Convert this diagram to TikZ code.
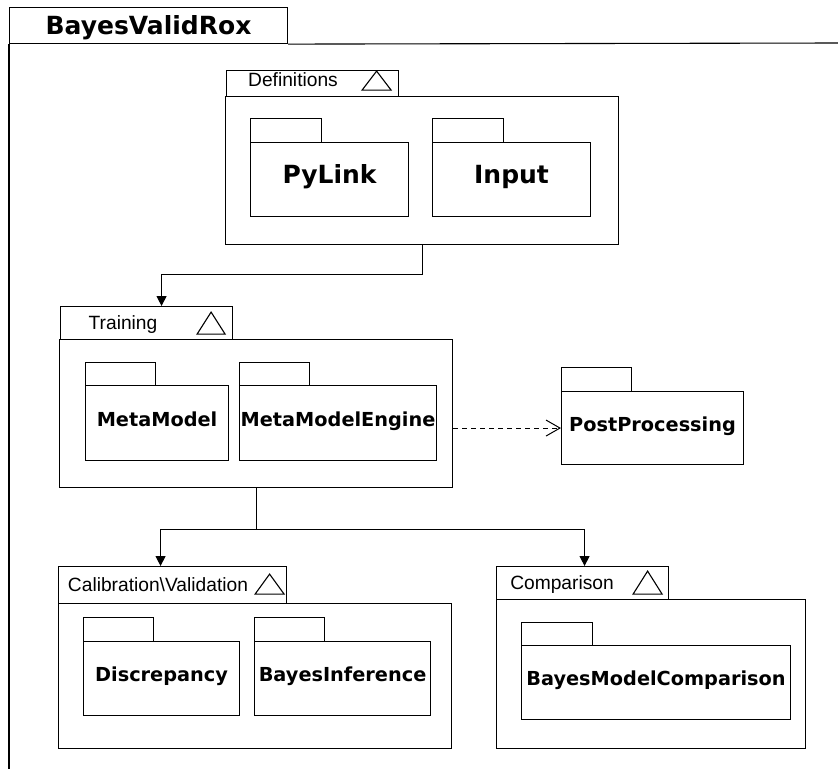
\documentclass[tikz,border=0pt]{standalone}
\usepackage{fontspec}
\setmainfont{Liberation Sans}
\newfontfamily\pkgfont{DejaVu Sans}
\usetikzlibrary{positioning,arrows.meta,calc}

\tikzset{
  outline/.style={draw,line width=1.1pt,inner sep=0pt},
  box/.style={outline,anchor=north west},
  pkgtab/.style={box,minimum width=71pt,minimum height=24pt},
  pkgname/.style={box,font=\pkgfont\bfseries\fontsize{19.3}{21}\selectfont,text height=14pt,text depth=8pt},
  bigname/.style={pkgname,font=\pkgfont\bfseries\fontsize{25}{27}\selectfont,text height=18pt,text depth=10pt},
  tablabel/.style={font=\fontsize{19.2}{21}\selectfont,inner sep=0pt,anchor=base},
  flow/.style={line width=1.1pt,-{Triangle[length=10pt,width=10pt]}},
  depend/.style={line width=1pt,dash pattern=on 5pt off 4pt,-{Straight Barb[length=14pt,width=16pt]}}
}

\begin{document}
\begin{tikzpicture}[x=1pt,y=-1pt]
  \useasboundingbox (0,0) rectangle (838,769);

  % outer frame
  \node[box,minimum width=278pt,minimum height=36pt,text height=18pt,text depth=0pt,font=\pkgfont\bfseries\fontsize{25}{27}\selectfont] (frametab) at (9,7) {BayesValidRox};
  \coordinate (frameright) at (838,43);
  \coordinate (framebottom) at (9,769);
  \draw[line width=1.1pt] (frametab.south east) -- (frameright);
  \draw[line width=1.1pt] (frametab.south west) -- (framebottom);

  % Definitions
  \node[box,minimum width=172pt,minimum height=26pt] (deftab) at (226,70) {};
  \node[tablabel] (deflabel) at (293,86.5) {Definitions};
  \draw[outline] ([shift={(-8,-7)}]deftab.south east) -- +(-29,0) -- +(-14.5,-19) -- cycle;
  \node[box,minimum width=393pt,minimum height=148pt] (defbody) at (225,96) {};
  \node[pkgtab] (pylinktab) at (250,118) {};
  \node[bigname,minimum width=158pt,minimum height=74pt] (pylink) at (250,142) {PyLink};
  \node[pkgtab] (inputtab) at (432,118) {};
  \node[bigname,minimum width=158pt,minimum height=74pt] (input) at (432,142) {Input};

  % Training
  \node[box,minimum width=172pt,minimum height=33pt] (traintab) at (60,306) {};
  \node[tablabel] (trainlabel) at (123,329) {Training};
  \draw[outline] ([shift={(-8,-6)}]traintab.south east) -- +(-28,0) -- +(-14,-22) -- cycle;
  \node[box,minimum width=393pt,minimum height=148pt] (trainbody) at (59,339) {};
  \node[pkgtab,minimum width=70pt,minimum height=23pt] (metamodeltab) at (85,362) {};
  \node[pkgname,minimum width=143pt,minimum height=75pt] (metamodel) at (85,385) {MetaModel};
  \node[pkgtab,minimum width=70pt,minimum height=23pt] (enginetab) at (239,362) {};
  \node[pkgname,minimum width=197pt,minimum height=75pt] (engine) at (239,385) {MetaModelEngine};

  % PostProcessing
  \node[pkgtab,minimum width=70pt] (posttab) at (561,367) {};
  \node[pkgname,minimum width=182pt,minimum height=73pt] (postbody) at (561,391) {PostProcessing};

  % Calibration\Validation
  \node[box,minimum width=228pt,minimum height=37pt] (calibtab) at (58,566) {};
  \node[tablabel] (caliblabel) at (158,591) {Calibration\textbackslash Validation};
  \draw[outline] ([shift={(-3,-10)}]calibtab.south east) -- +(-29,0) -- +(-14.5,-20) -- cycle;
  \node[box,minimum width=393pt,minimum height=145pt] (calibbody) at (58,603) {};
  \node[pkgtab,minimum width=70pt] (discrtab) at (83,617) {};
  \node[pkgname,minimum width=156pt,minimum height=74pt] (discrepancy) at (83,641) {Discrepancy};
  \node[pkgtab,minimum width=70pt] (inferencetab) at (254,617) {};
  \node[pkgname,minimum width=176pt,minimum height=74pt] (inference) at (254,641) {BayesInference};

  % Comparison
  \node[box,minimum width=172pt,minimum height=33pt] (comptab) at (496,566) {};
  \node[tablabel] (complabel) at (562,589) {Comparison};
  \draw[outline] ([shift={(-7,-6)}]comptab.south east) -- +(-29,0) -- +(-14.5,-23) -- cycle;
  \node[box,minimum width=309pt,minimum height=149pt] (compbody) at (496,599) {};
  \node[pkgtab,minimum height=23pt] (bmctab) at (521,622) {};
  \node[pkgname,minimum width=269pt,minimum height=74pt] (bmc) at (521,645) {BayesModelComparison};

  % connectors
  \draw[flow] (defbody.south) -- ++(0,29) -| ([xshift=15pt]traintab.north);
  \draw[line width=1.1pt] (trainbody.south) -- ++(0,41) coordinate (split);
  \draw[flow] (split) -| ([xshift=-12pt]calibtab.north);
  \draw[flow] (split) -| ([xshift=2pt]comptab.north);
  \draw[depend] (trainbody.east |- postbody.west) -- (postbody.west);
\end{tikzpicture}
\end{document}
